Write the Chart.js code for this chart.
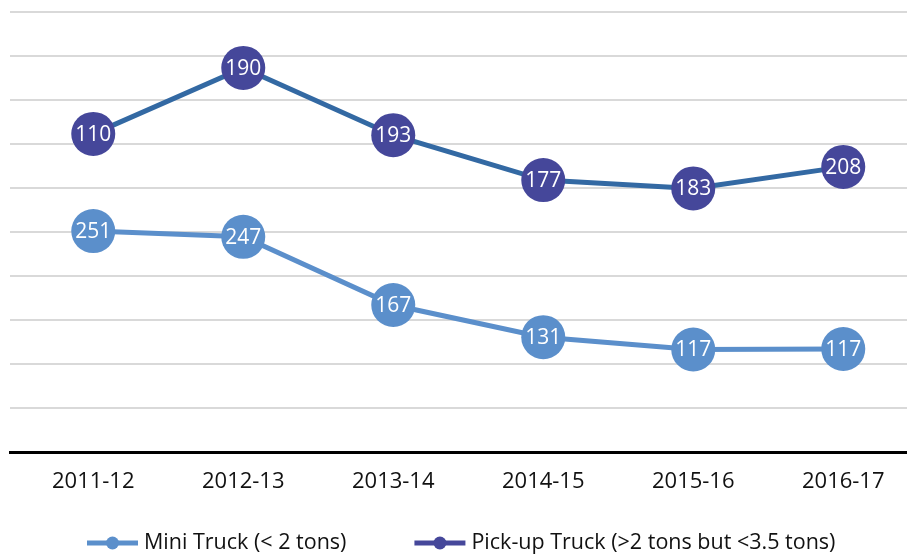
<!DOCTYPE html>
<html><head><meta charset="utf-8">
<script src="https://cdn.jsdelivr.net/npm/chart.js@4"></script>
<style>html,body{margin:0;padding:0;background:#fff;overflow:hidden}#wrap{width:907px;height:554px;position:relative}</style>
</head><body><div id="wrap"><canvas id="c" width="907" height="554"></canvas></div>
<script>
// Categories (x axis tick labels)
const categories = ['2011-12','2012-13','2013-14','2014-15','2015-16','2016-17'];
// Values printed inside the markers
const miniTruckLabels = [251, 247, 167, 131, 117, 117];
const pickupTruckLabels = [110, 190, 193, 177, 183, 208];
// Vertical positions of the markers (gridline units, 0 = axis)
const miniTruckPositions = [5.02, 4.89, 3.34, 2.61, 2.33, 2.34];
const pickupTruckPositions = [7.23, 8.73, 7.20, 6.18, 5.99, 6.48];
const seriesNames = ['Mini Truck (< 2 tons)', 'Pick-up Truck (>2 tons but <3.5 tons)'];

const FONT = '"Open Sans", sans-serif';
const MINI = '#5B8FCB';
const PICK_MARK = '#45479A';
const PICK_LINE = '#3369A3';

const toPts = arr => arr.map((v, i) => ({x: i, y: v}));

const valueLabels = {
  id: 'valueLabels',
  afterDatasetsDraw(chart) {
    const ctx = chart.ctx;
    const sets = [miniTruckLabels, pickupTruckLabels];
    ctx.save();
    ctx.fillStyle = '#ffffff';
    ctx.font = '21px ' + FONT;
    ctx.textAlign = 'center';
    ctx.textBaseline = 'middle';
    chart.data.datasets.forEach((ds, di) => {
      chart.getDatasetMeta(di).data.forEach((pt, i) => {
        ctx.fillText(String(sets[di][i]), pt.x, pt.y + 1);
      });
    });
    ctx.restore();
  }
};

const customLegend = {
  id: 'customLegend',
  afterDraw(chart) {
    const ctx = chart.ctx;
    const y = 543;
    const items = [
      {name: seriesNames[0], line: MINI, mark: MINI},
      {name: seriesNames[1], line: PICK_MARK, mark: PICK_MARK}
    ];
    ctx.save();
    ctx.font = '21.5px ' + FONT;
    ctx.textBaseline = 'middle';
    ctx.textAlign = 'left';
    let x = 87;
    items.forEach((it, k) => {
      ctx.strokeStyle = it.line;
      ctx.lineWidth = 5;
      ctx.beginPath();
      ctx.moveTo(x, y);
      ctx.lineTo(x + 51, y);
      ctx.stroke();
      ctx.fillStyle = it.mark;
      ctx.beginPath();
      ctx.arc(x + 25.5, y, 6.5, 0, Math.PI * 2);
      ctx.fill();
      ctx.fillStyle = '#111111';
      ctx.fillText(it.name, x + 57, y);
      x += 57 + ctx.measureText(it.name).width + 68;
    });
    ctx.restore();
  }
};

const zeroPad = (scale) => {
  scale.paddingLeft = 0; scale.paddingRight = 0;
  scale.paddingTop = 0; scale.paddingBottom = 0;
};

new Chart(document.getElementById('c'), {
  type: 'line',
  data: {
    datasets: [
      {
        label: seriesNames[0],
        data: toPts(miniTruckPositions),
        borderColor: MINI,
        backgroundColor: MINI,
        pointBackgroundColor: MINI,
        pointBorderColor: MINI,
        borderWidth: 5,
        pointRadius: 22,
        pointBorderWidth: 0,
        tension: 0
      },
      {
        label: seriesNames[1],
        data: toPts(pickupTruckPositions),
        borderColor: PICK_LINE,
        backgroundColor: PICK_MARK,
        pointBackgroundColor: PICK_MARK,
        pointBorderColor: PICK_MARK,
        borderWidth: 5,
        pointRadius: 22,
        pointBorderWidth: 0,
        tension: 0
      }
    ]
  },
  options: {
    responsive: false,
    animation: false,
    devicePixelRatio: 1,
    layout: {autoPadding: false, padding: {left: 10, right: 0, top: 12, bottom: 60}},
    plugins: {legend: {display: false}, tooltip: {enabled: false}},
    scales: {
      x: {
        type: 'linear',
        min: -0.555,
        max: 5.425,
        afterBuildTicks(scale) { scale.ticks = categories.map((c, i) => ({value: i})); },
        afterFit(scale) { zeroPad(scale); scale.height = 42; },
        ticks: {
          callback: (v) => categories[v] ?? '',
          font: {family: FONT, size: 22},
          color: '#111111',
          padding: 17,
          maxRotation: 0,
          autoSkip: false
        },
        grid: {display: false, drawTicks: false},
        border: {display: true, color: '#000000', width: 3}
      },
      y: {
        min: 0,
        max: 10,
        afterFit(scale) { zeroPad(scale); scale.width = 0; },
        ticks: {display: false, stepSize: 1},
        grid: {color: '#d9d9d9', lineWidth: 2, drawTicks: false},
        border: {display: false}
      }
    }
  },
  plugins: [valueLabels, customLegend]
});
</script>
</body></html>
